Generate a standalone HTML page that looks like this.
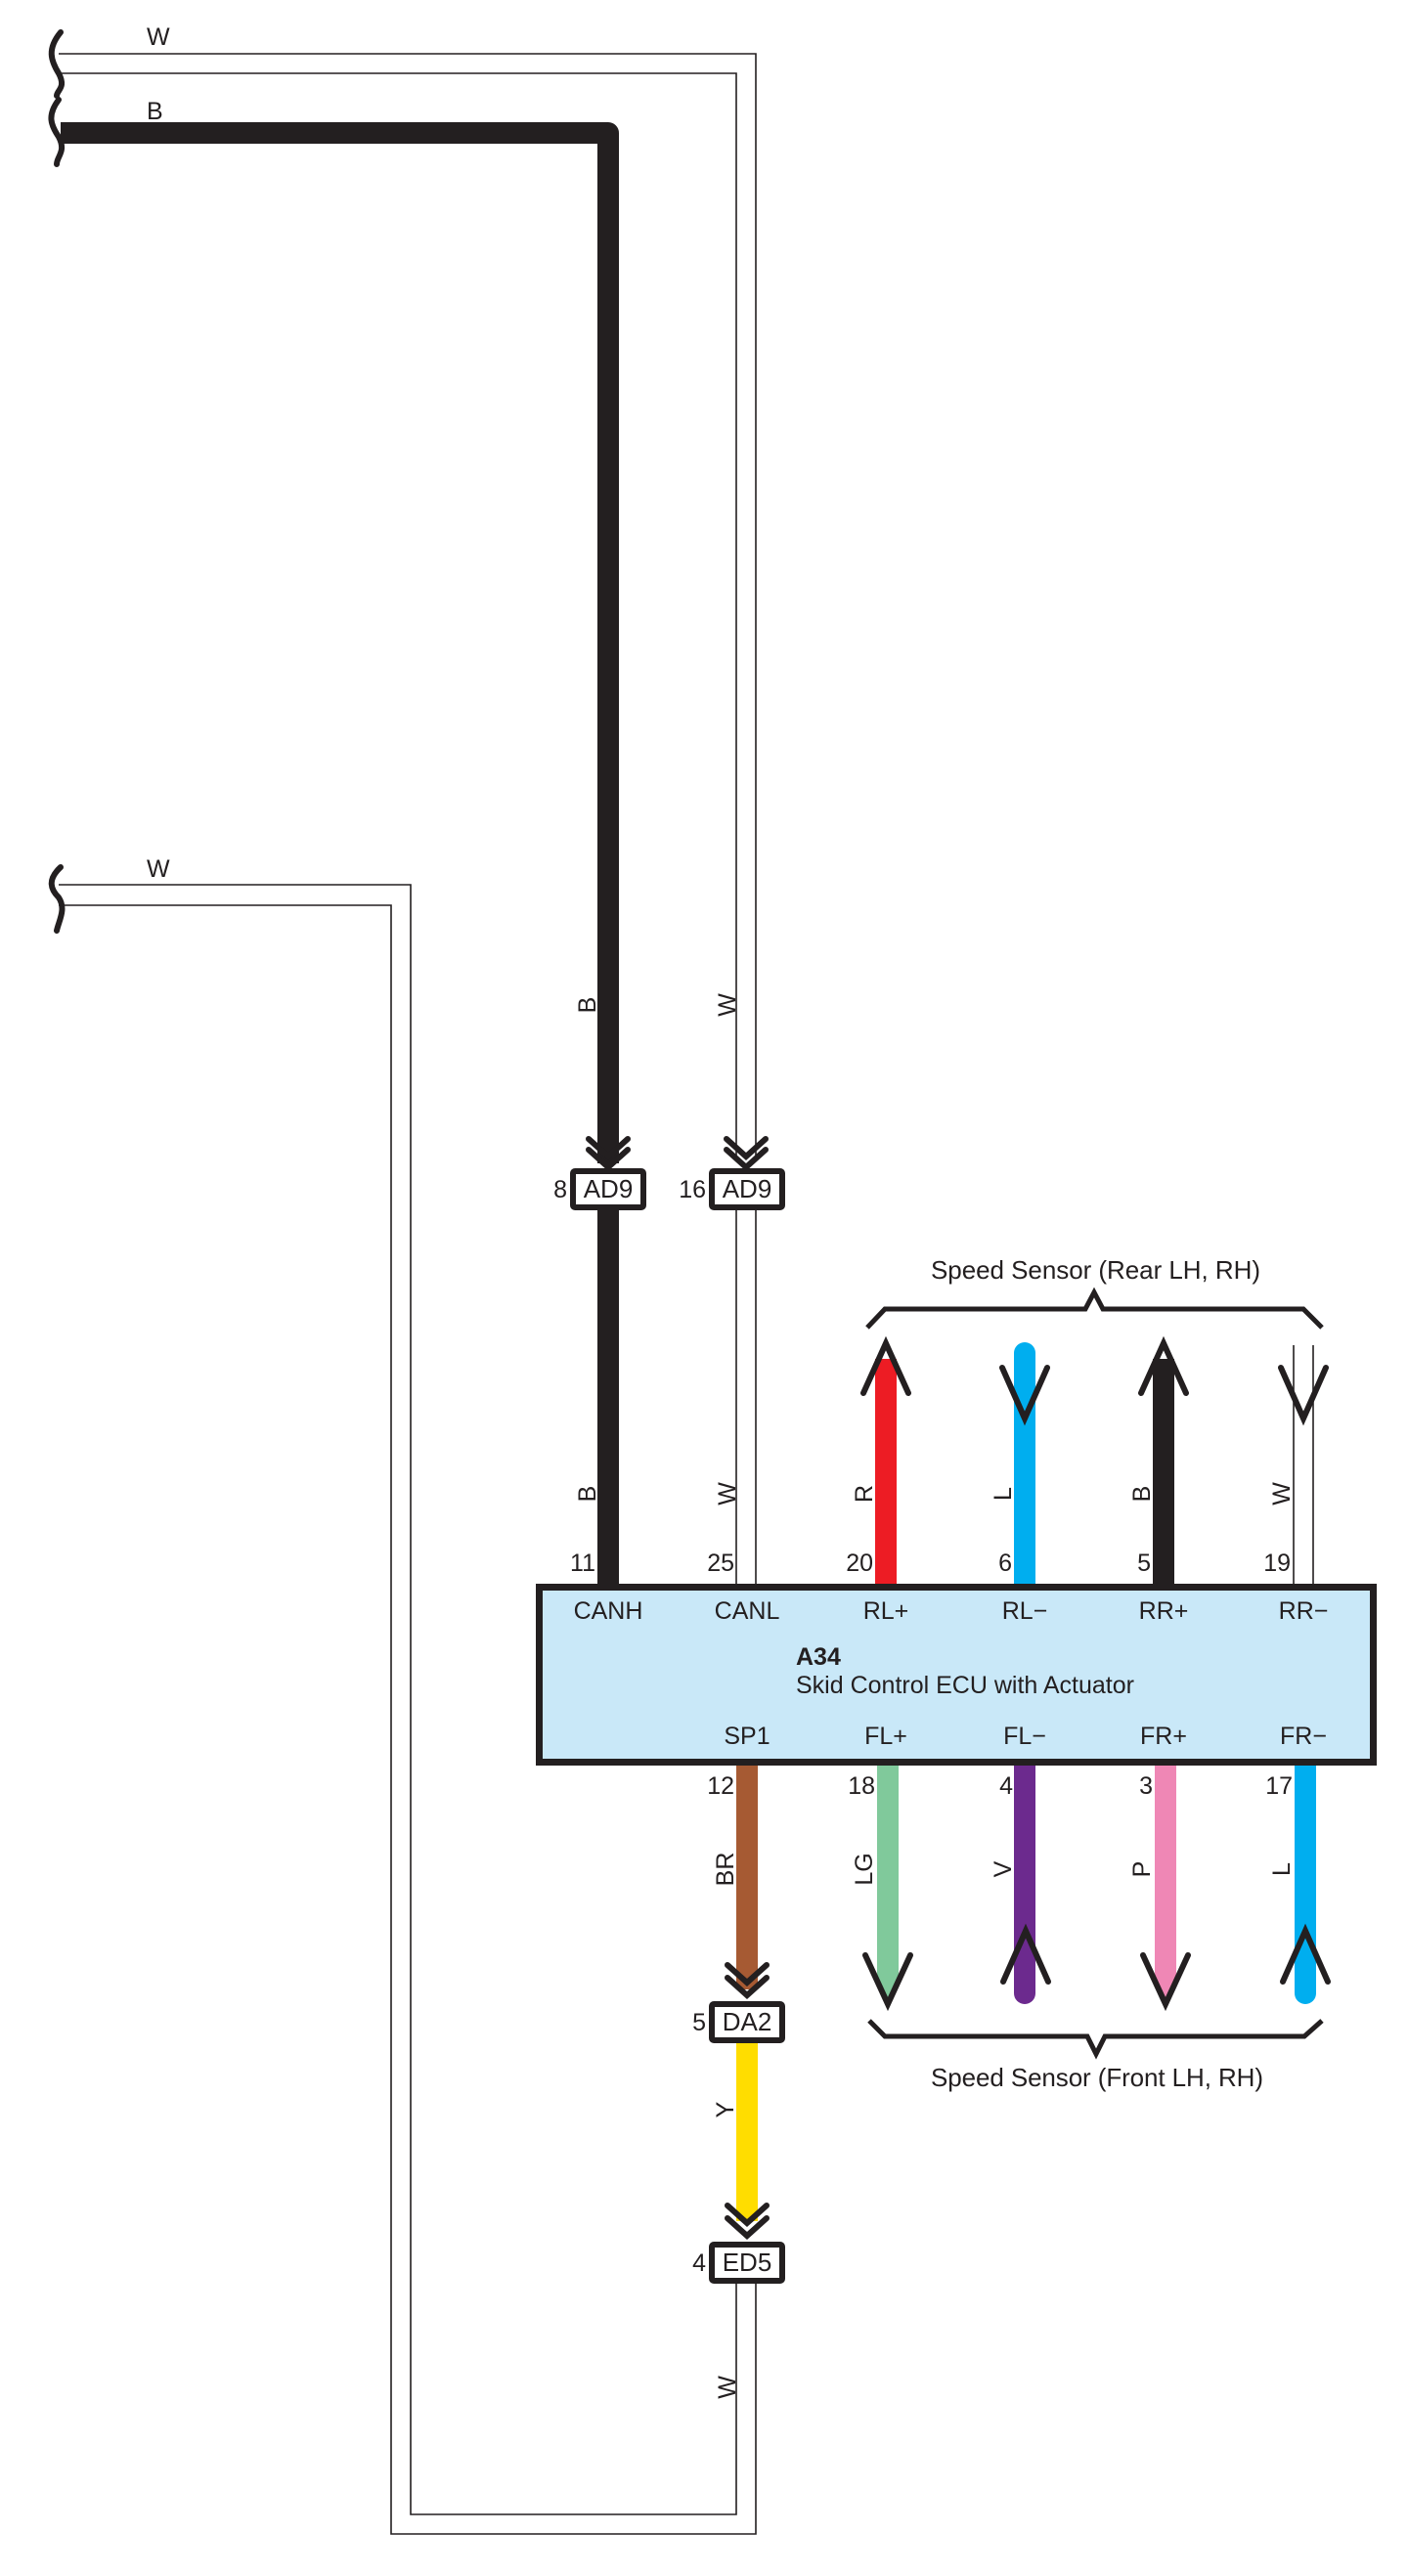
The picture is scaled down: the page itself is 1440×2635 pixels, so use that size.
<!DOCTYPE html>
<html><head><meta charset="utf-8"><style>
html,body{margin:0;padding:0;background:#fff}
svg{display:block}
text{font-family:"Liberation Sans",sans-serif;fill:#231f20}
</style></head><body>
<svg width="1440" height="2635" viewBox="0 0 1440 2635" xmlns="http://www.w3.org/2000/svg">
<g fill="none" stroke="#231f20" stroke-width="1.6">
<polyline points="60,55 773,55 773,1185"/>
<polyline points="60,75 753,75 753,1185"/>
<line x1="753" y1="1238" x2="753" y2="1620"/>
<line x1="773" y1="1238" x2="773" y2="1620"/>
<polyline points="60,905 420,905 420,2572 753,2572 753,2335"/>
<polyline points="60,926 400,926 400,2592 773,2592 773,2335"/>
<line x1="1323" y1="1376" x2="1323" y2="1620"/>
<line x1="1343" y1="1376" x2="1343" y2="1620"/>
</g>
<g fill="none" stroke="#231f20" stroke-width="6" stroke-linecap="round">
<path d="M62 33 C48 50,52 62,60 75 C68 90,58 92,58 98"/>
<path d="M60 102 C48 118,52 128,60 140 C68 155,58 160,58 168"/>
<path d="M62 887 C48 900,52 910,60 918 C68 930,60 942,58 952"/>
</g>
<path d="M62 136 L622 136 L622 1190" fill="none" stroke="#231f20" stroke-width="22" stroke-linejoin="round"/>
<line x1="622" y1="1238" x2="622" y2="1624" stroke="#231f20" stroke-width="22"/>
<line x1="906" y1="1390" x2="906" y2="1622" stroke="#ed1c24" stroke-width="22"/>
<line x1="1048" y1="1384" x2="1048" y2="1622" stroke="#00aeef" stroke-width="22" stroke-linecap="round"/>
<line x1="1048" y1="1610" x2="1048" y2="1622" stroke="#00aeef" stroke-width="22"/>
<line x1="1190" y1="1390" x2="1190" y2="1622" stroke="#231f20" stroke-width="22"/>
<line x1="764" y1="1804" x2="764" y2="2035" stroke="#a65a33" stroke-width="22"/>
<line x1="764" y1="2086" x2="764" y2="2272" stroke="#ffdd00" stroke-width="22"/>
<path d="M897 1804 L919 1804 L919 2020 L908 2046 L897 2020 Z" fill="#80c99b"/>
<line x1="1048" y1="1804" x2="1048" y2="2039" stroke="#6c2a8e" stroke-width="22" stroke-linecap="round"/>
<path d="M1181 1804 L1203 1804 L1203 2020 L1192 2046 L1181 2020 Z" fill="#ef87b5"/>
<line x1="1335" y1="1804" x2="1335" y2="2039" stroke="#00aeef" stroke-width="22" stroke-linecap="round"/>
<g fill="none" stroke="#231f20" stroke-width="6" stroke-linecap="round" stroke-linejoin="miter">
<polyline points="602,1165 622,1183 642,1165"/><polyline points="602,1176 622,1194 642,1176"/>
<polyline points="743,1165 763,1183 783,1165"/><polyline points="743,1176 763,1194 783,1176"/>
<polyline points="744,2010 764,2028 784,2010"/><polyline points="744,2023 764,2041 784,2023"/>
<polyline points="744,2256 764,2274 784,2256"/><polyline points="744,2269 764,2287 784,2269"/>
<polyline points="883,1425 906,1374 929,1425"/>
<polyline points="1167,1425 1190,1374 1213,1425"/>
<polyline points="1025,1399 1048,1451 1071,1399"/>
<polyline points="1310,1399 1333,1451 1356,1399"/>
<polyline points="885,2000 908,2050 931,2000"/>
<polyline points="1169,2000 1192,2050 1215,2000"/>
<polyline points="1026,2027 1049,1975 1072,2027"/>
<polyline points="1312,2027 1335,1975 1358,2027"/>
</g>
<g fill="none" stroke="#231f20" stroke-width="5">
<polyline points="887,1358 905,1339 1110,1339 1119,1322 1128,1339 1333,1339 1352,1358"/>
<polyline points="889,2067 905,2083 1112,2083 1121,2101 1130,2083 1334,2083 1352,2067"/>
</g>
<g fill="#fff" stroke="#231f20" stroke-width="6">
<rect x="586" y="1198" width="72" height="37" rx="2"/>
<rect x="728" y="1198" width="72" height="37" rx="2"/>
<rect x="728" y="2050" width="72" height="37" rx="2"/>
<rect x="728" y="2296" width="72" height="37" rx="2"/>
</g>
<rect x="551.5" y="1623.5" width="853" height="179" fill="#c9e8f8" stroke="#231f20" stroke-width="7"/>
<g font-size="26" text-anchor="middle">
<text x="622" y="1225">AD9</text>
<text x="764" y="1225">AD9</text>
<text x="764" y="2077">DA2</text>
<text x="764" y="2323">ED5</text>
</g>
<g font-size="25" text-anchor="end">
<text x="580" y="1225">8</text>
<text x="722" y="1225">16</text>
<text x="722" y="2077">5</text>
<text x="722" y="2323">4</text>
<text x="609" y="1607">11</text>
<text x="751" y="1607">25</text>
<text x="893" y="1607">20</text>
<text x="1035" y="1607">6</text>
<text x="1177" y="1607">5</text>
<text x="1320" y="1607">19</text>
<text x="751" y="1835">12</text>
<text x="895" y="1835">18</text>
<text x="1036" y="1835">4</text>
<text x="1179" y="1835">3</text>
<text x="1322" y="1835">17</text>
</g>
<g font-size="25" text-anchor="middle">
<text x="622" y="1656">CANH</text>
<text x="764" y="1656">CANL</text>
<text x="906" y="1656">RL+</text>
<text x="1048" y="1656">RL−</text>
<text x="1190" y="1656">RR+</text>
<text x="1333" y="1656">RR−</text>
<text x="764" y="1784">SP1</text>
<text x="906" y="1784">FL+</text>
<text x="1048" y="1784">FL−</text>
<text x="1190" y="1784">FR+</text>
<text x="1333" y="1784">FR−</text>
</g>
<text x="814" y="1703" font-size="25" font-weight="bold">A34</text>
<text x="814" y="1732" font-size="25">Skid Control ECU with Actuator</text>
<text x="952" y="1308" font-size="26" textLength="337">Speed Sensor (Rear LH,  RH)</text>
<text x="952" y="2134" font-size="26" textLength="340">Speed Sensor (Front LH,  RH)</text>
<g font-size="25">
<text x="150" y="46">W</text>
<text x="150" y="122">B</text>
<text x="150" y="897">W</text>
</g>
<g font-size="25" text-anchor="middle" dominant-baseline="central">
<text transform="translate(601,1028) rotate(-90)">B</text>
<text transform="translate(744,1028) rotate(-90)">W</text>
<text transform="translate(601,1528) rotate(-90)">B</text>
<text transform="translate(744,1528) rotate(-90)">W</text>
<text transform="translate(884,1528) rotate(-90)">R</text>
<text transform="translate(1026,1528) rotate(-90)">L</text>
<text transform="translate(1168,1528) rotate(-90)">B</text>
<text transform="translate(1311,1528) rotate(-90)">W</text>
<text transform="translate(742,1912) rotate(-90)">BR</text>
<text transform="translate(884,1912) rotate(-90)">LG</text>
<text transform="translate(1026,1912) rotate(-90)">V</text>
<text transform="translate(1168,1912) rotate(-90)">P</text>
<text transform="translate(1311,1912) rotate(-90)">L</text>
<text transform="translate(742,2158) rotate(-90)">Y</text>
<text transform="translate(744,2442) rotate(-90)">W</text>
</g>
</svg>
</body></html>
